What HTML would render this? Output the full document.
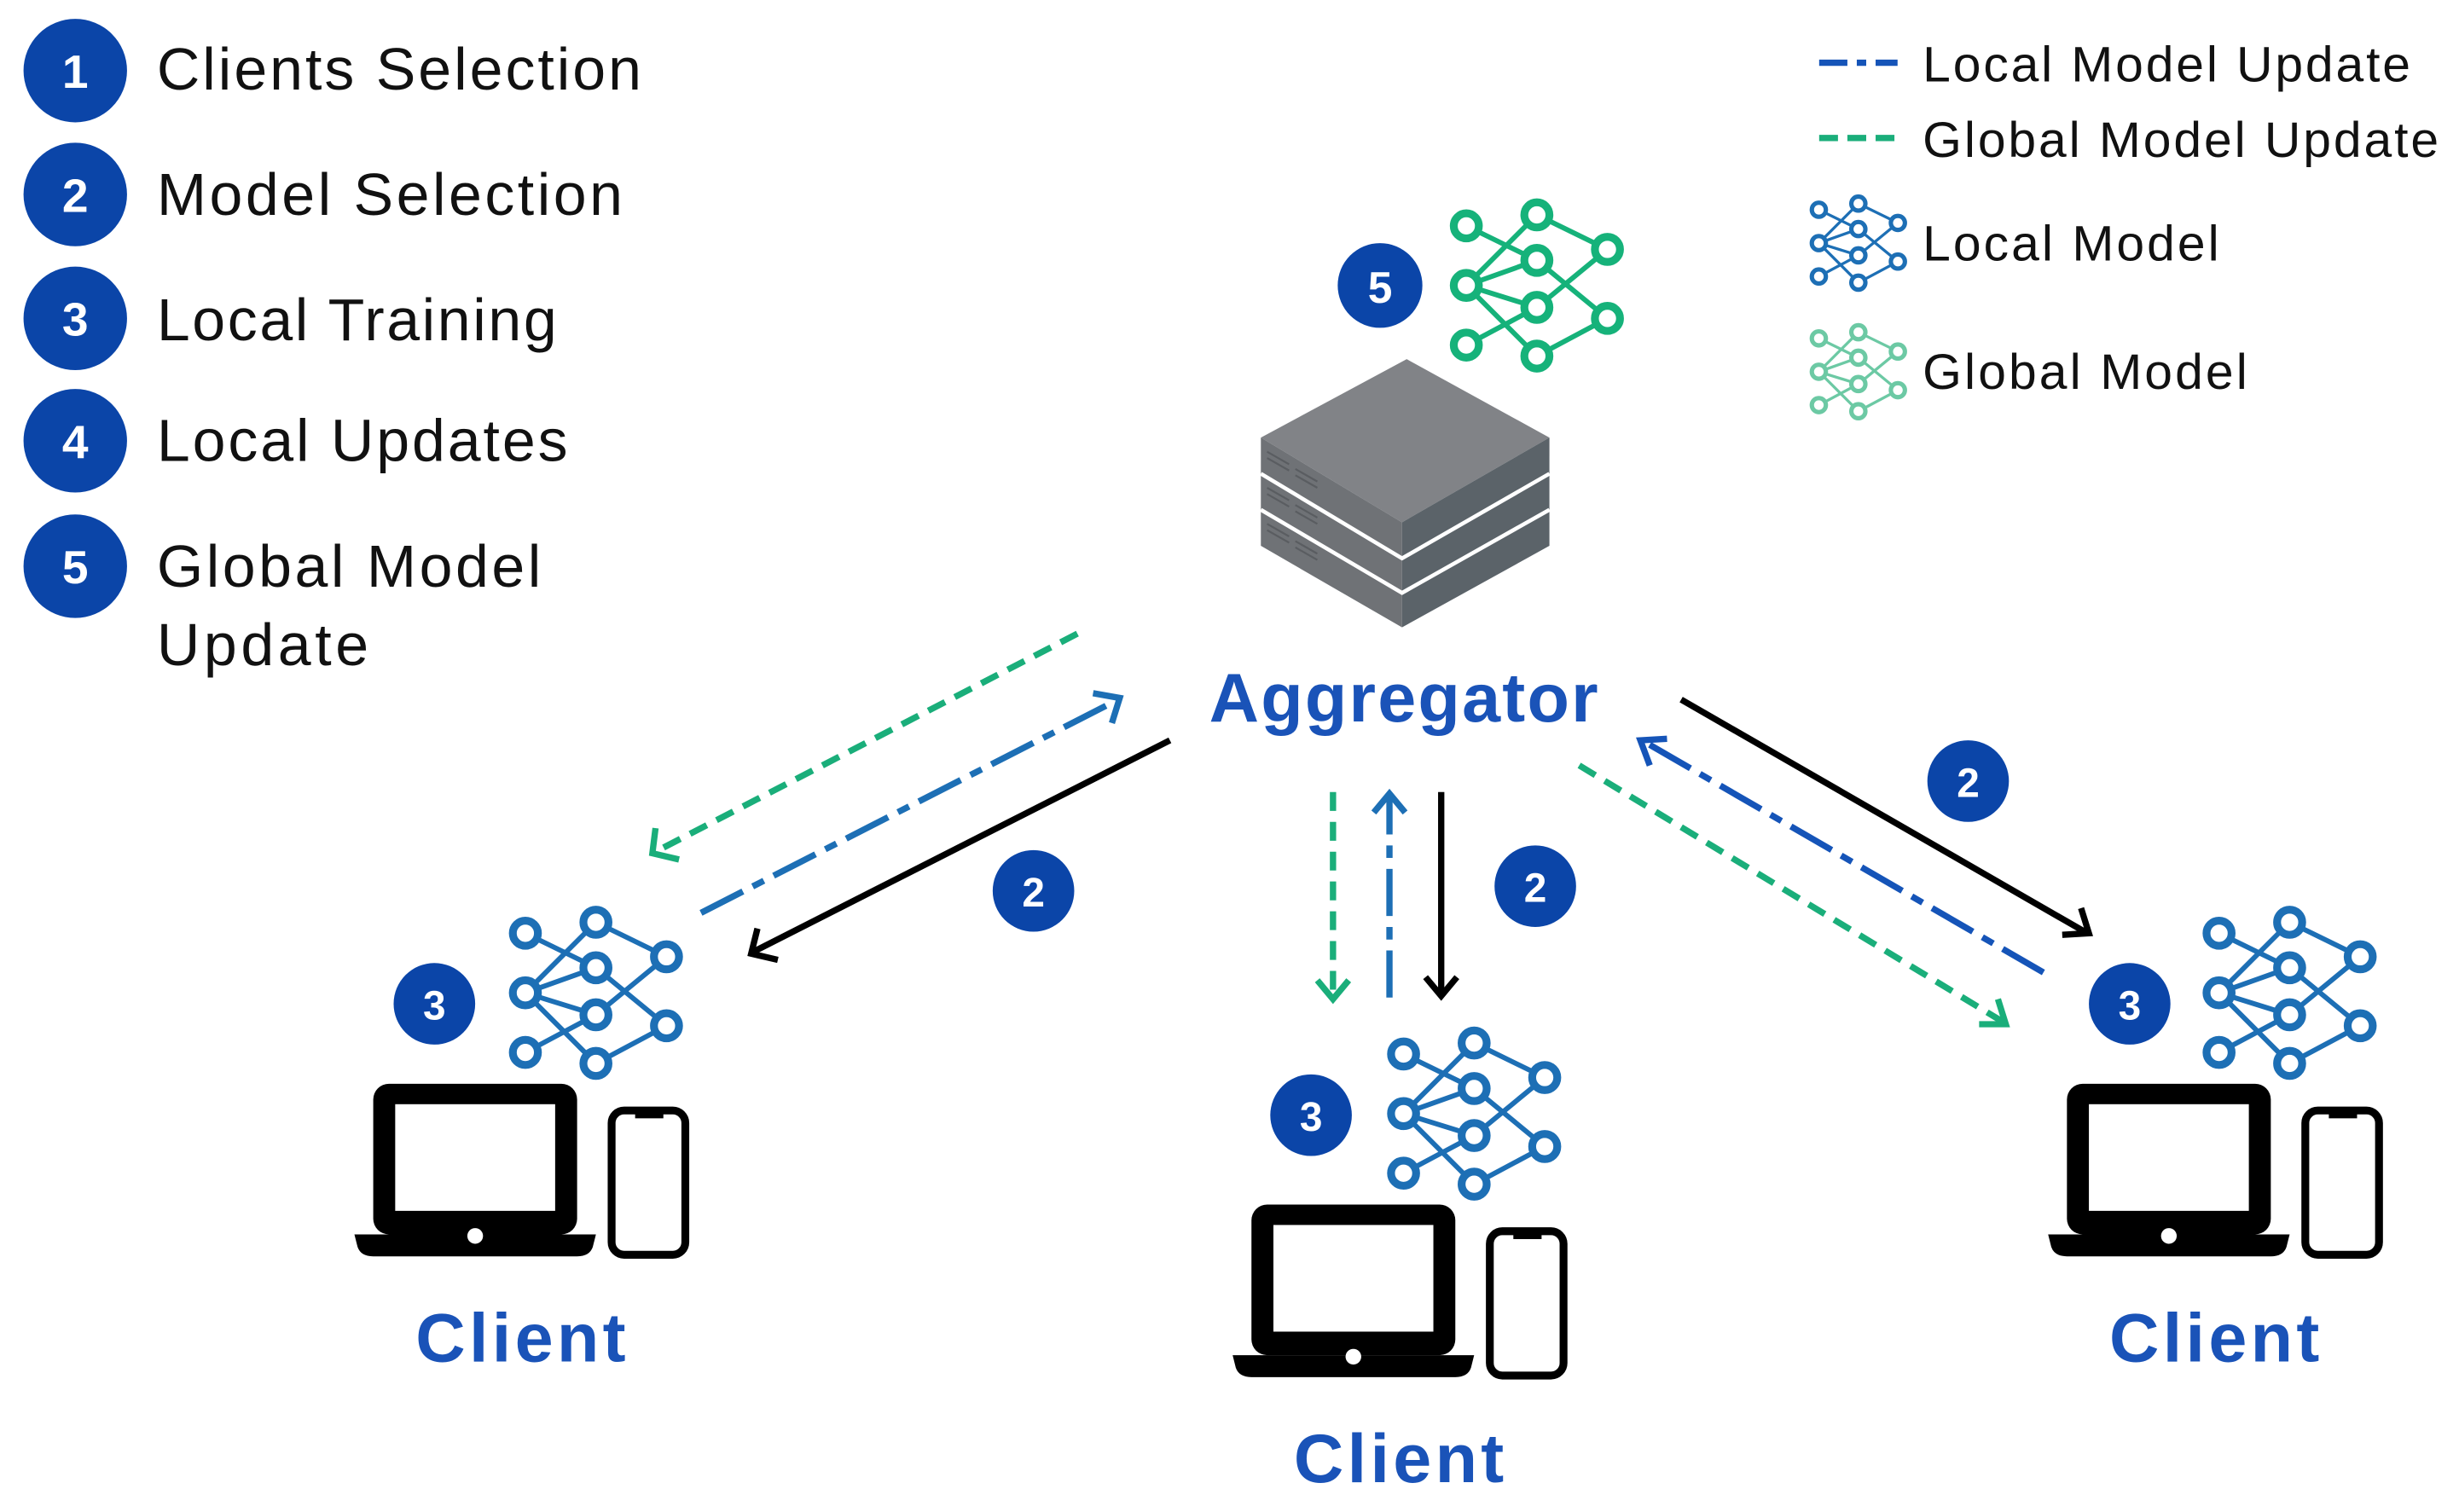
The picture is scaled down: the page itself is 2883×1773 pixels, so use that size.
<!DOCTYPE html>
<html><head><meta charset="utf-8"><style>
html,body{margin:0;padding:0;background:#fff;}
svg{display:block;}
text{font-family:"Liberation Sans",sans-serif;}
</style></head><body>
<svg width="2883" height="1773" viewBox="0 0 1568 964" preserveAspectRatio="none" xmlns="http://www.w3.org/2000/svg">
<defs>
<g id="net">
<g stroke-width="3.2" fill="none">
<line x1="-45" y1="-38" x2="0" y2="-16"/>
<line x1="0" y1="-45" x2="-45" y2="0"/>
<line x1="0" y1="-45" x2="45" y2="-23"/>
<line x1="-45" y1="0" x2="0" y2="-16"/>
<line x1="-45" y1="0" x2="0" y2="14"/>
<line x1="-45" y1="0" x2="0" y2="45"/>
<line x1="-45" y1="38" x2="0" y2="14"/>
<line x1="0" y1="-16" x2="45" y2="21"/>
<line x1="0" y1="14" x2="45" y2="-23"/>
<line x1="0" y1="45" x2="45" y2="21"/>
</g>
<g stroke-width="5" fill="#fff">
<circle cx="-45" cy="-38" r="8"/><circle cx="-45" cy="0" r="8"/><circle cx="-45" cy="38" r="8"/>
<circle cx="0" cy="-45" r="8"/><circle cx="0" cy="-16" r="8"/><circle cx="0" cy="14" r="8"/><circle cx="0" cy="45" r="8"/>
<circle cx="45" cy="-23" r="8"/><circle cx="45" cy="21" r="8"/>
</g>
</g>
<g id="dev">
<rect x="0" y="0" width="130" height="96" rx="10" fill="#000"/>
<rect x="14" y="13" width="102" height="68" fill="#fff"/>
<path d="M-12 96 H142 L140 104 Q138 110 130 110 H0 Q-8 110 -10 104 Z" fill="#000"/>
<circle cx="65" cy="97" r="5" fill="#fff"/>
<rect x="152" y="17" width="47" height="92" rx="8" fill="#fff" stroke="#000" stroke-width="5"/>
<rect x="167" y="17" width="18" height="5" fill="#000"/>
</g>
</defs>

<!-- left legend -->
<g fill="#0b45a8">
<circle cx="48" cy="45" r="33"/><circle cx="48" cy="124" r="33"/><circle cx="48" cy="203" r="33"/><circle cx="48" cy="281" r="33"/><circle cx="48" cy="361" r="33"/>
</g>
<g fill="#fff" font-size="30" font-weight="bold" text-anchor="middle">
<text x="48" y="56">1</text><text x="48" y="135">2</text><text x="48" y="214">3</text><text x="48" y="292">4</text><text x="48" y="372">5</text>
</g>
<g fill="#111" font-size="38">
<text x="100" y="57" textLength="309">Clients Selection</text>
<text x="100" y="137" textLength="297">Model Selection</text>
<text x="100" y="217" textLength="255">Local Training</text>
<text x="100" y="294" textLength="262">Local Updates</text>
<text x="100" y="374" textLength="245">Global Model</text>
<text x="100" y="424" textLength="135">Update</text>
</g>

<!-- right legend -->
<line x1="1160" y1="40" x2="1210" y2="40" stroke="#1554b8" stroke-width="4" stroke-dasharray="18,6,6,6"/>
<line x1="1160" y1="88" x2="1210" y2="88" stroke="#1aae7a" stroke-width="4" stroke-dasharray="12,6"/>
<g fill="#111" font-size="32">
<text x="1226" y="52" textLength="311">Local Model Update</text>
<text x="1226" y="100" textLength="329">Global Model Update</text>
<text x="1226" y="166" textLength="189">Local Model</text>
<text x="1226" y="248" textLength="207">Global Model</text>
</g>
<use href="#net" transform="translate(1185,155) scale(0.56)" stroke="#1d6fb5"/>
<use href="#net" transform="translate(1185,237) scale(0.56)" stroke="#6cc9a4"/>

<!-- server -->
<g>
<polygon points="804,279 897,229 988,279 894,333" fill="#818387"/>
<polygon points="804,279 894,333 894,400 804,348" fill="#6f7276"/>
<polygon points="894,333 988,279 988,348 894,400" fill="#5b6369"/>
<g stroke="#fff" stroke-width="2.5" fill="none">
<polyline points="804,302 894,356 988,302"/>
<polyline points="804,325 894,378 988,325"/>
</g>
<g stroke="#5a5d61" stroke-width="1.2">
<line x1="808" y1="288" x2="822" y2="296"/><line x1="808" y1="292" x2="822" y2="300"/><line x1="826" y1="299" x2="840" y2="307"/><line x1="826" y1="303" x2="840" y2="311"/>
<line x1="808" y1="311" x2="822" y2="319"/><line x1="808" y1="315" x2="822" y2="323"/><line x1="826" y1="322" x2="840" y2="330"/><line x1="826" y1="326" x2="840" y2="334"/>
<line x1="808" y1="334" x2="822" y2="342"/><line x1="808" y1="338" x2="822" y2="346"/><line x1="826" y1="345" x2="840" y2="353"/><line x1="826" y1="349" x2="840" y2="357"/>
</g>
</g>
<circle cx="880" cy="182" r="27" fill="#0b45a8"/>
<text x="880" y="193" fill="#fff" font-size="28" font-weight="bold" text-anchor="middle">5</text>
<use href="#net" transform="translate(980,182)" stroke="#16b27a"/>

<text x="895" y="460" fill="#1a53b8" font-size="44" font-weight="bold" text-anchor="middle" textLength="248">Aggregator</text>

<g fill="none" stroke-width="4">
<line x1="687" y1="404" x2="418" y2="543" stroke="#1aae7a" stroke-dasharray="12,7"/>
<polyline points="418,528 416,544 433,548" stroke="#1aae7a"/>
<line x1="447" y1="582" x2="713" y2="446" stroke="#1d6fb5" stroke-dasharray="30,7,8,7"/>
<polyline points="697,442 714,445 709,461" stroke="#1d6fb5"/>
<line x1="746" y1="472" x2="480" y2="607" stroke="#000"/>
<polyline points="483,592 479,608 496,612" stroke="#000"/>
<line x1="850" y1="505" x2="850" y2="636" stroke="#1aae7a" stroke-dasharray="12,7"/>
<polyline points="840,625 850,637 860,625" stroke="#1aae7a"/>
<line x1="886" y1="636" x2="886" y2="507" stroke="#1d6fb5" stroke-dasharray="30,7,8,7"/>
<polyline points="876,518 886,506 896,518" stroke="#1d6fb5"/>
<line x1="919" y1="505" x2="919" y2="634" stroke="#000"/>
<polyline points="909,623 919,635 929,623" stroke="#000"/>
<line x1="1072" y1="446" x2="1331" y2="595" stroke="#000"/>
<polyline points="1315,596 1332,595 1327,579" stroke="#000"/>
<line x1="1303" y1="620" x2="1047" y2="472" stroke="#1554b8" stroke-dasharray="30,7,8,7"/>
<polyline points="1052,488 1046,472 1063,471" stroke="#1554b8"/>
<line x1="1007" y1="488" x2="1278" y2="652" stroke="#1aae7a" stroke-dasharray="12,7"/>
<polyline points="1262,653 1279,653 1274,637" stroke="#1aae7a"/>
</g>

<g fill="#0b45a8"><circle cx="659" cy="568" r="26"/><circle cx="979" cy="565" r="26"/><circle cx="1255" cy="498" r="26"/>
<circle cx="277" cy="640" r="26"/><circle cx="836" cy="711" r="26"/><circle cx="1358" cy="640" r="26"/></g>
<g fill="#fff" font-size="26" font-weight="bold" text-anchor="middle">
<text x="659" y="578">2</text><text x="979" y="575">2</text><text x="1255" y="508">2</text>
<text x="277" y="650">3</text><text x="836" y="721">3</text><text x="1358" y="650">3</text>
</g>

<use href="#net" transform="translate(380,633)" stroke="#1d6fb5"/>
<use href="#net" transform="translate(940,710)" stroke="#1d6fb5"/>
<use href="#net" transform="translate(1460,633)" stroke="#1d6fb5"/>

<use href="#dev" transform="translate(238,691)"/>
<use href="#dev" transform="translate(798,768)"/>
<use href="#dev" transform="translate(1318,691)"/>

<g fill="#1a53b8" font-size="44" font-weight="bold" text-anchor="middle">
<text x="332" y="868" textLength="134">Client</text>
<text x="892" y="945" textLength="134">Client</text>
<text x="1412" y="868" textLength="134">Client</text>
</g>
</svg>
</body></html>
